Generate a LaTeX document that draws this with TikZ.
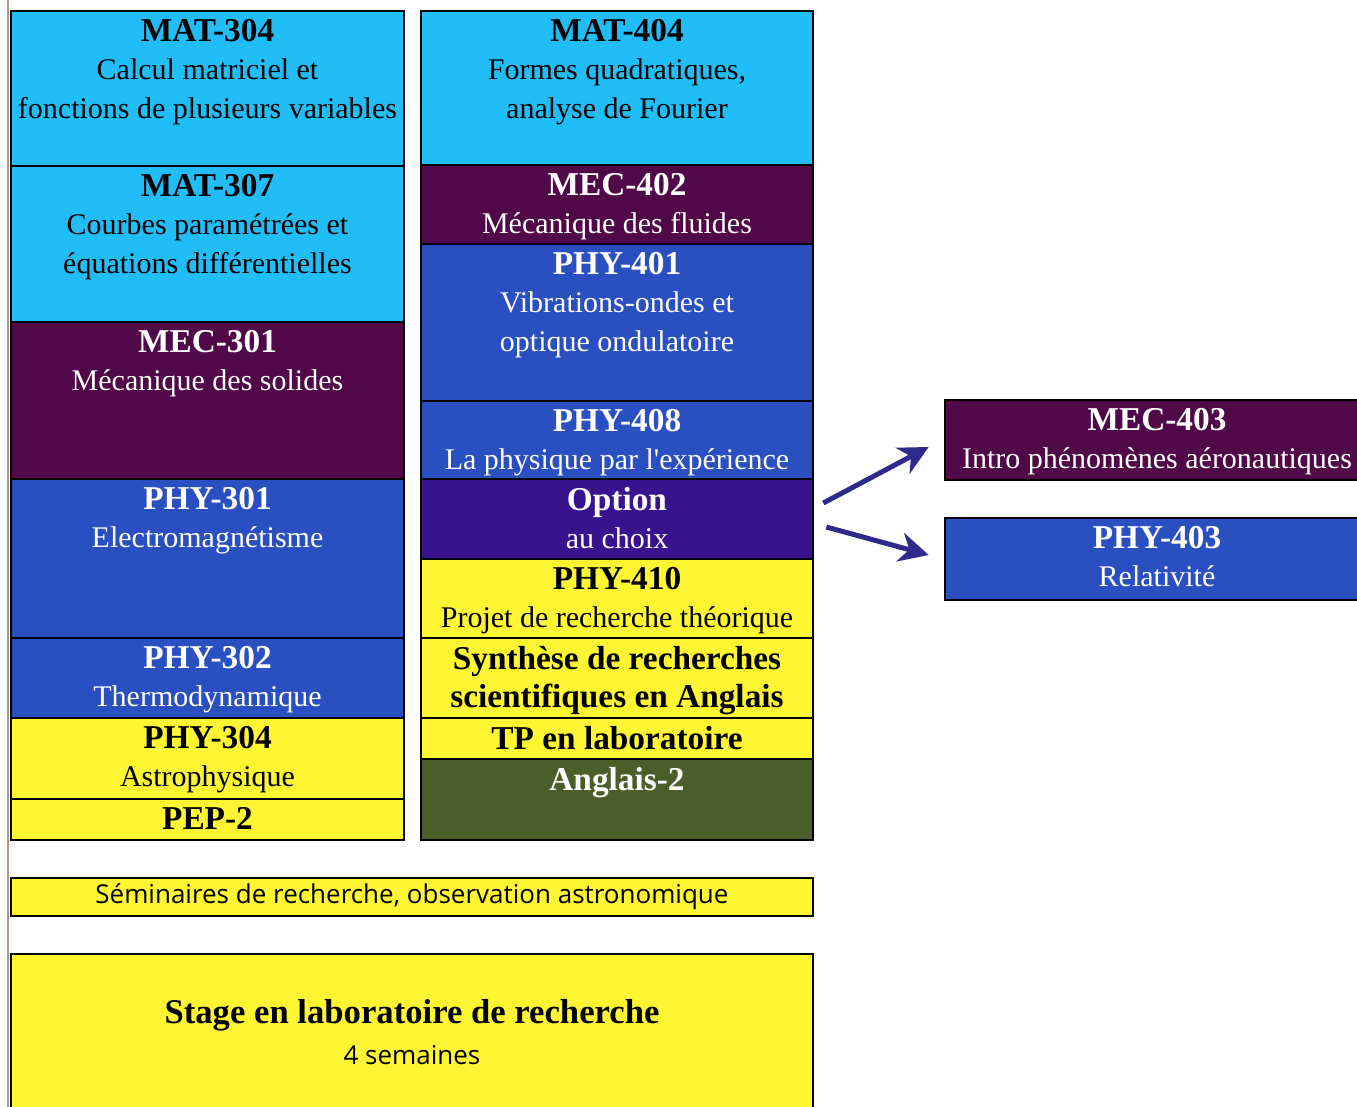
\documentclass[tikz,border=0pt]{standalone}
\usepackage{fontspec}
\setmainfont{LiberationSerif-Regular.ttf}[BoldFont=LiberationSerif-Bold.ttf]
\newfontfamily\lsr{LiberationSerif-Regular.ttf}[BoldFont=LiberationSerif-Bold.ttf]
\newfontfamily\sansf{Open Sans}
\usetikzlibrary{fit,calc,arrows.meta}
\definecolor{cyanc}{HTML}{20BDF6}
\definecolor{mecc}{HTML}{500848}
\definecolor{phyc}{HTML}{2A4FC1}
\definecolor{optc}{HTML}{39128E}
\definecolor{yelc}{HTML}{FFF633}
\definecolor{angc}{HTML}{4A5E2A}
\definecolor{arrc}{HTML}{2E2A8C}
\definecolor{edgec}{HTML}{A8998A}
\newcommand\tb[1]{{\lsr\bfseries\fontsize{25}{29}\selectfont #1}}
\newcommand\crs[8]{%
  \node[box, fill=#6, fit={(#2,#3)(#4,#5)}] (#1) {};
  \node[txt, text=#7] (#1-t) at ($(#1.north)+(0,9)$) {#8};}
\begin{document}
\begin{tikzpicture}[x=0.75pt,y=-0.75pt,
  box/.style={draw=black, line width=2pt, inner sep=0pt},
  txt/.style={inner sep=0pt, anchor=north, align=center, font=\lsr\fontsize{22.5}{29}\selectfont},
  arr/.style={draw=arrc, line width=3.75pt, -{Stealth[length=22pt,width=22pt,inset=7pt]}}]
\useasboundingbox (0,0) rectangle (1357,1107);
\clip (0,0) rectangle (1357,1107);
\fill[white] (0,0) rectangle (1357,1107);
\draw[edgec, line width=1.4pt] (8,0) -- (8,1107);
% left column
\crs{mat304}{11}{11}{404}{166}{cyanc}{black}{\tb{MAT-304}\\Calcul matriciel et\\fonctions de plusieurs variables}
\crs{mat307}{11}{166}{404}{322}{cyanc}{black}{\tb{MAT-307}\\Courbes paramétrées et\\équations différentielles}
\crs{mec301}{11}{322}{404}{479}{mecc}{white}{\tb{MEC-301}\\Mécanique des solides}
\crs{phy301}{11}{479}{404}{638}{phyc}{white}{\tb{PHY-301}\\Electromagnétisme}
\crs{phy302}{11}{638}{404}{718}{phyc}{white}{\tb{PHY-302}\\Thermodynamique}
\crs{phy304}{11}{718}{404}{799}{yelc}{black}{\tb{PHY-304}\\Astrophysique}
\crs{pep2}{11}{799}{404}{840}{yelc}{black}{\tb{PEP-2}}
% right column
\crs{mat404}{421}{11}{813}{165}{cyanc}{black}{\tb{MAT-404}\\Formes quadratiques,\\analyse de Fourier}
\crs{mec402}{421}{165}{813}{244}{mecc}{white}{\tb{MEC-402}\\Mécanique des fluides}
\crs{phy401}{421}{244}{813}{401}{phyc}{white}{\tb{PHY-401}\\Vibrations-ondes et\\optique ondulatoire}
\crs{phy408}{421}{401}{813}{479}{phyc}{white}{\tb{PHY-408}\\La physique par l'expérience}
\crs{option}{421}{479}{813}{559}{optc}{white}{\tb{Option}\\au choix}
\crs{phy410}{421}{559}{813}{638}{yelc}{black}{\tb{PHY-410}\\Projet de recherche théorique}
\crs{synth}{421}{638}{813}{718}{yelc}{black}{\tb{Synthèse de recherches}\\\tb{scientifiques en Anglais}}
\crs{tp}{421}{718}{813}{759}{yelc}{black}{\tb{TP en laboratoire}}
\crs{angl}{421}{759}{813}{840}{angc}{white}{\tb{Anglais-2}}
% options
\crs{mec403}{945}{400}{1369}{480}{mecc}{white}{\tb{MEC-403}\\Intro phénomènes aéronautiques}
\crs{phy403}{945}{518}{1369}{600}{phyc}{white}{\tb{PHY-403}\\Relativité}
% bottom
\node[box, fill=yelc, fit={(11,878)(813,916)}] (sem) {};
\node[inner sep=0pt, font=\sansf\fontsize{19.5}{22}\selectfont] (sem-t) at (sem.center) {Séminaires de recherche, observation astronomique};
\node[box, fill=yelc, fit={(11,954)(813,1130)}] (stage) {};
\node[inner sep=0pt, font=\lsr\bfseries\fontsize{26}{29}\selectfont] (stage-t) at (412,1015) {Stage en laboratoire de recherche};
\node[inner sep=0pt, font=\sansf\fontsize{19.5}{22}\selectfont] (stage-d) at (412,1055) {4 semaines};
% arrows
\draw[arr] ($(option.east)+(9,-16)$) -- ($(mec403.west)+(-15,7)$);
\draw[arr] ($(option.east)+(12,8)$) -- ($(phy403.west)+(-15,-4)$);
\end{tikzpicture}
\end{document}
